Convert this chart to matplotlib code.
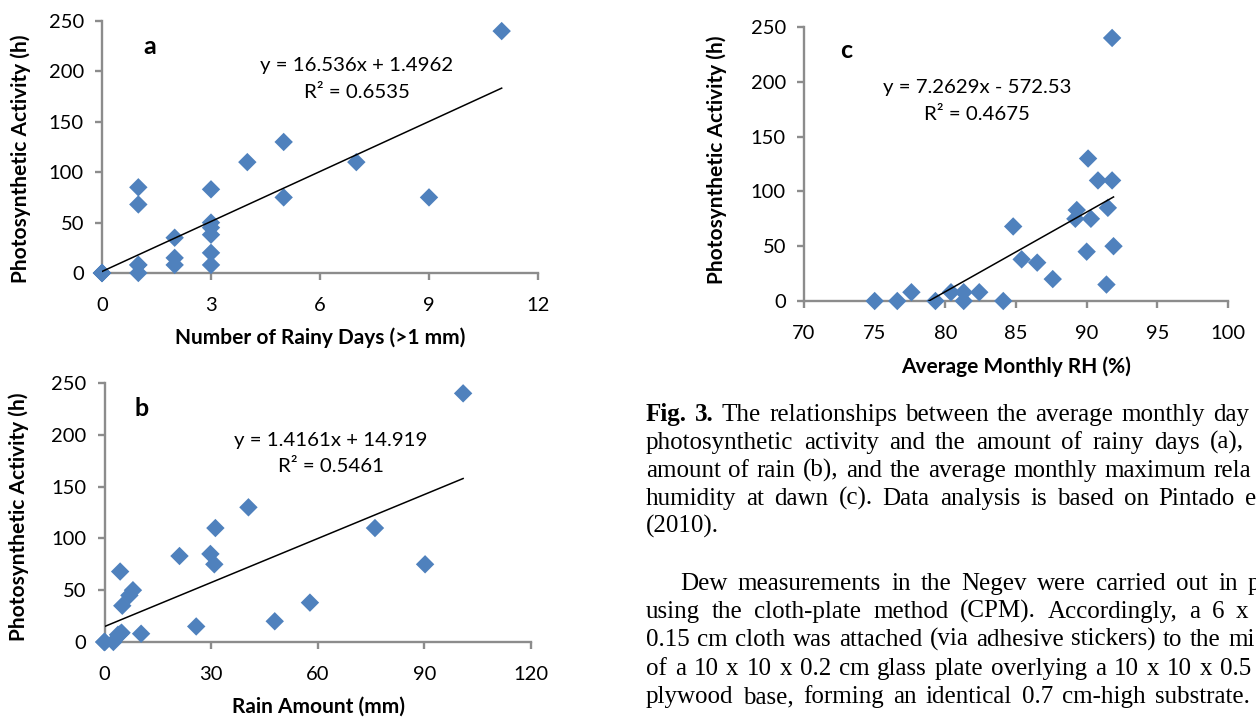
import matplotlib.pyplot as plt
import numpy as np

plt.rcParams['font.family'] = 'Lato'

W, H = 1256, 717
GREY = '#8c8c8c'
BLUE = '#4f81bd'

# (a) number of rainy days (>1 mm) vs photosynthetic activity (h)
rainy_days = [0, 0, 0, 0, 1, 1, 1, 1, 1, 2, 2, 2, 3, 3, 3, 3, 3, 3, 4, 5, 5, 7, 9, 11]
act_days = [0, 0, 0, 0, 0, 8, 68, 85, 8, 8, 15, 35, 8, 20, 38, 45, 50, 83, 110, 75, 130, 110, 75, 240]
fit_days = (16.536, 1.4962, 0.6535)

# (b) rain amount (mm) vs photosynthetic activity (h)
rain_mm = [0, 0, 0, 0, 2.5, 3.8, 4.5, 4.8, 10.3, 25.8, 47.9, 5.0, 57.8, 7.0, 8.0, 4.4,
           30.9, 90.2, 21.1, 29.8, 31.2, 76.1, 40.5, 100.9]
act_rain = [0, 0, 0, 0, 0, 7, 8, 9, 8, 15, 20, 35, 38, 45, 50, 68, 75, 75, 83, 85, 110, 110, 130, 240]
fit_rain = (1.4161, 14.919, 0.5461)

# (c) average monthly RH (%) vs photosynthetic activity (h)
rh = [75.0, 76.6, 79.3, 81.3, 84.1, 77.6, 80.4, 81.3, 82.4, 91.4, 87.6, 86.5, 85.4, 90.0,
      91.9, 84.8, 89.2, 90.3, 89.3, 91.5, 90.8, 91.8, 90.1, 91.8]
act_rh = [0, 0, 0, 0, 0, 8, 8, 8, 8, 15, 20, 35, 38, 45, 50, 68, 75, 75, 83, 85, 110, 110, 130, 240]
fit_rh = (7.2629, -572.53, 0.4675)

caption = [
    ['Fig.', '3.', 'The', 'relationships', 'between', 'the', 'average', 'monthly', 'day'],
    ['photosynthetic', 'activity', 'and', 'the', 'amount', 'of', 'rainy', 'days', '(a),'],
    ['amount', 'of', 'rain', '(b),', 'and', 'the', 'average', 'monthly', 'maximum', 'rela'],
    ['humidity', 'at', 'dawn', '(c).', 'Data', 'analysis', 'is', 'based', 'on', 'Pintado', 'e'],
    ['(2010).'],
    ['Dew', 'measurements', 'in', 'the', 'Negev', 'were', 'carried', 'out', 'in', 'p'],
    ['using', 'the', 'cloth-plate', 'method', '(CPM).', 'Accordingly,', 'a', '6', 'x'],
    ['0.15', 'cm', 'cloth', 'was', 'attached', '(via', 'adhesive', 'stickers)', 'to', 'the', 'mi'],
    ['of', 'a', '10', 'x', '10', 'x', '0.2', 'cm', 'glass', 'plate', 'overlying', 'a', '10', 'x', '10', 'x', '0.5'],
    ['plywood', 'base,', 'forming', 'an', 'identical', '0.7', 'cm-high', 'substrate.'],
]
# left edge, baseline, start of the last word, end of the line (None = not set)
caption_pos = [(646, 421, 1213, None), (646, 449, 1210, None), (646, 477, 1213, None),
               (646, 505, 1245, None), (646, 533, None, None), (680, 590, 1248, None),
               (646, 618, 1236, None), (646, 646, 1228, None), (646, 675, 1220, None),
               (646, 703, None, 1250)]

fig = plt.figure(figsize=(W / 100, H / 100), dpi=100)


def fx(x):
    return x / W


def fy(y):
    return 1 - y / H


def panel(box, x, y, fit, xticks, letter, letter_xy, eq_xy, xlabel, xlabel_xy, ylabel_xy):
    left, top, right, bottom = box
    ax = fig.add_axes([fx(left), fy(bottom), (right - left) / W, (bottom - top) / H])
    ax.scatter(x, y, marker='D', s=88, color=BLUE, edgecolors='none', clip_on=False, zorder=3)
    slope, icpt, r2 = fit
    lx = np.array([min(x), max(x)])
    ax.plot(lx, slope * lx + icpt, color='black', lw=1.1, zorder=4)
    ax.set_xlim(xticks[0], xticks[-1])
    ax.set_xticks(xticks)
    ax.set_ylim(0, 250)
    ax.set_yticks(range(0, 251, 50))
    for s in ('top', 'right'):
        ax.spines[s].set_visible(False)
    for s in ('left', 'bottom'):
        ax.spines[s].set_color(GREY)
        ax.spines[s].set_linewidth(1.7)
    ax.tick_params(direction='out', length=5, width=1.7, color=GREY, labelsize=14.5)
    ax.tick_params(axis='x', pad=12)
    ax.tick_params(axis='y', pad=8)
    ax.patch.set_alpha(0)

    sign = '+' if icpt >= 0 else '-'
    fig.text(fx(letter_xy[0]), fy(letter_xy[1]), letter, fontsize=18, weight='bold',
             ha='center', va='center')
    fig.text(fx(eq_xy[0]), fy(eq_xy[1]), 'y = %gx %s %g' % (slope, sign, abs(icpt)),
             fontsize=14.7, ha='center', va='center')
    fig.text(fx(eq_xy[0]), fy(eq_xy[1] + 27), 'R² = %.4f' % r2,
             fontsize=14.7, ha='center', va='center')
    fig.text(fx(xlabel_xy[0]), fy(xlabel_xy[1]), xlabel, fontsize=15, weight='bold',
             ha='center', va='center')
    fig.text(fx(ylabel_xy[0]), fy(ylabel_xy[1]), 'Photosynthetic Activity (h)', fontsize=15,
             weight='bold', ha='center', va='center', rotation=90)
    return ax


panel((102, 21, 538, 273), rainy_days, act_days, fit_days, [0, 3, 6, 9, 12],
      'a', (150, 47), (357, 66), 'Number of Rainy Days (>1 mm)', (320, 338), (21, 159))
panel((104.5, 383, 531, 642), rain_mm, act_rain, fit_rain, [0, 30, 60, 90, 120],
      'b', (142, 408), (331, 440), 'Rain Amount (mm)', (318, 707), (19, 517))
panel((804, 27, 1228, 301), rh, act_rh, fit_rh, [70, 75, 80, 85, 90, 95, 100],
      'c', (846, 50), (977, 87), 'Average Monthly RH (%)', (1016, 367), (717, 160))

# caption and body text, justified word by word
renderer = fig.canvas.get_renderer()
for n, (words, (x0, base, last_start, line_end)) in enumerate(zip(caption, caption_pos)):
    objs = []
    for i, w in enumerate(words):
        bold = n == 0 and i < 2
        objs.append(fig.text(0, fy(base), w, fontsize=18, family='Liberation Serif',
                             weight='bold' if bold else 'normal', va='baseline'))
    widths = [t.get_window_extent(renderer).width for t in objs]
    if last_start is not None:
        gap = (last_start - x0 - sum(widths[:-1])) / (len(words) - 1)
    elif line_end is not None:
        gap = (line_end - x0 - sum(widths)) / (len(words) - 1)
    else:
        gap = 5
    x = x0
    for t, w in zip(objs, widths):
        t.set_x(fx(x))
        x += w + gap

fig.savefig('out.png', dpi=100)
